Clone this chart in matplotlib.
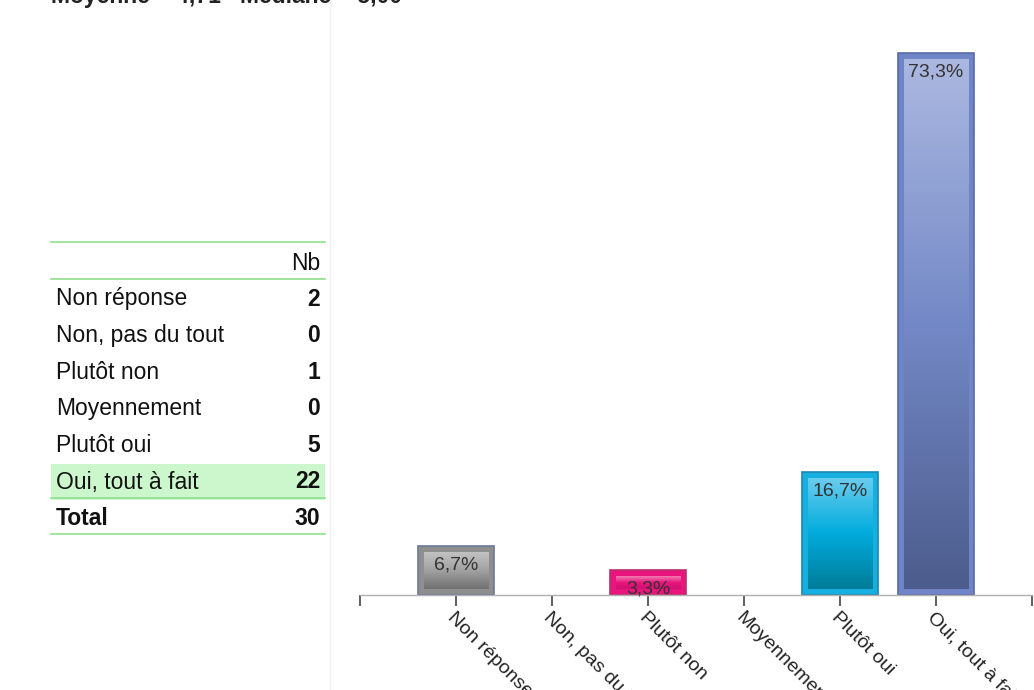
import numpy as np
import matplotlib
matplotlib.use("Agg")
import matplotlib.pyplot as plt
from matplotlib.lines import Line2D
from matplotlib.patches import Rectangle
from matplotlib.colors import LinearSegmentedColormap

plt.rcParams['font.family'] = ['Liberation Sans', 'DejaVu Sans']

# ---- data ----
categories = ["Non réponse", "Non, pas du tout", "Plutôt non", "Moyennement", "Plutôt oui", "Oui, tout à fait"]
counts = [2, 0, 1, 0, 5, 22]
total = 30
header = "Nb"
stats_text = "Moyenne = 4,71   Médiane = 5,00"

outer_colors = ["#8e8e8e", "#8e8e8e", "#e8157c", "#888888", "#16b0e0", "#7085c8"]
edge_colors = ["#6c7a94", "#6c7a94", "#b8306c", "#6c7a94", "#1c88b0", "#5a6aa8"]
grad_top = ["#c4c4c4", "#c4c4c4", "#f27ab0", "#c4c4c4", "#6ccdef", "#abb8e0"]
grad_mid = ["#a2a2a2", "#a2a2a2", "#e8157c", "#a2a2a2", "#00acdd", "#7388c6"]
grad_bot = ["#707070", "#707070", "#d01070", "#707070", "#007c98", "#4c5c8c"]

pct = [c / total * 100 for c in counts]

W, H = 1034, 690
fig = plt.figure(figsize=(W / 100, H / 100), dpi=100)

def fx(px):
    return px / W

def fy(py):
    return 1 - py / H

# faint separator
fig.add_artist(Line2D([fx(330), fx(330)], [0, 1], color="#f0f0f0", lw=1))

# stats text (cut off at top)
fig.text(fx(51), fy(3), stats_text, fontsize=16.5, fontweight="bold", color="#222222",
         ha="left", va="baseline")

# ---- chart ----
ax = fig.add_axes([fx(360), fy(595), fx(1032) - fx(360), fy(40) - fy(595)])
ax.set_xlim(-1, len(categories))
ax.set_ylim(0, max(pct) * 555 / 542)
for s in ["top", "right", "left"]:
    ax.spines[s].set_visible(False)
ax.spines["bottom"].set_color("#b0b0b0")
ax.spines["bottom"].set_linewidth(1)
ax.set_yticks([])
ax.set_xticks(np.arange(-1, len(categories) + 1))
ax.set_xticklabels([""] + categories + [""])
ax.tick_params(axis="x", length=8, width=1.2, color="#444444", direction="out", pad=2,
               labelsize=14, labelcolor="#222222")
for lab in ax.get_xticklabels():
    lab.set_rotation(-45)
    lab.set_ha("left")
    lab.set_va("top")
    lab.set_rotation_mode("anchor")

x = np.arange(len(categories))
bw = 0.8
lws = [1.2 if p > 0 else 0 for p in pct]
outer = ax.bar(x, pct, width=bw, color=outer_colors, edgecolor=edge_colors, linewidth=lws, zorder=2)

inset_x = 6 / 96.0
inset_y = 6 * ax.get_ylim()[1] / 555.0
for i, (xi, p) in enumerate(zip(x, pct)):
    if p <= 0:
        continue
    cmap = LinearSegmentedColormap.from_list("g%d" % i, [grad_bot[i], grad_mid[i], grad_top[i]])
    y0 = inset_y
    y1 = max(p - inset_y, y0 + 0.01)
    inner = Rectangle((xi - bw / 2 + inset_x, y0), bw - 2 * inset_x, y1 - y0,
                      facecolor="none", edgecolor="none", zorder=3)
    ax.add_patch(inner)
    grad = np.linspace(0, 1, 256).reshape(-1, 1)
    im = ax.imshow(grad, cmap=cmap, origin="lower", aspect="auto",
                   extent=(xi - bw / 2 + inset_x, xi + bw / 2 - inset_x, y0, y1), zorder=3)
    im.set_clip_path(inner)
    ax.annotate(f"{p:.1f}%".replace(".", ","), (xi, p), xytext=(0, -19),
                textcoords="offset pixels", ha="center", va="center",
                fontsize=14, color="#333333", zorder=5)
ax.set_xlim(-1, len(categories))
ax.set_ylim(0, max(pct) * 555 / 542)

# ---- table ----
line_c = "#8fe08f"
tx0, tx1 = fx(51), fx(325)
row_h = 36.6
fs = 16.5
rows_y = [299 + i * row_h for i in range(len(categories))]
imax = int(np.argmax(counts))
hy = rows_y[imax]
fig.add_artist(Rectangle((tx0, fy(hy + 17.5)), tx1 - tx0, fy(hy - 18.5) - fy(hy + 17.5),
                         transform=fig.transFigure, facecolor="#ccf7cc", edgecolor="none", zorder=0))
for ly in [242, 279, 498, 534]:
    fig.add_artist(Line2D([tx0, tx1], [fy(ly), fy(ly)], color=line_c, lw=1.2))

fig.text(fx(320), fy(263), header, fontsize=fs, ha="right", va="center", color="#111111")
for cat, c, yy in zip(categories, counts, rows_y):
    fig.text(fx(56), fy(yy), cat, fontsize=fs, ha="left", va="center", color="#111111")
    fig.text(fx(320), fy(yy), str(c), fontsize=fs, fontweight="bold", ha="right", va="center", color="#111111")
ty = rows_y[-1] + row_h
fig.text(fx(56), fy(ty), "Total", fontsize=fs, fontweight="bold", ha="left", va="center", color="#111111")
fig.text(fx(320), fy(ty), str(total), fontsize=fs, fontweight="bold", ha="right", va="center", color="#111111")

fig.savefig("out.png", dpi=100)
